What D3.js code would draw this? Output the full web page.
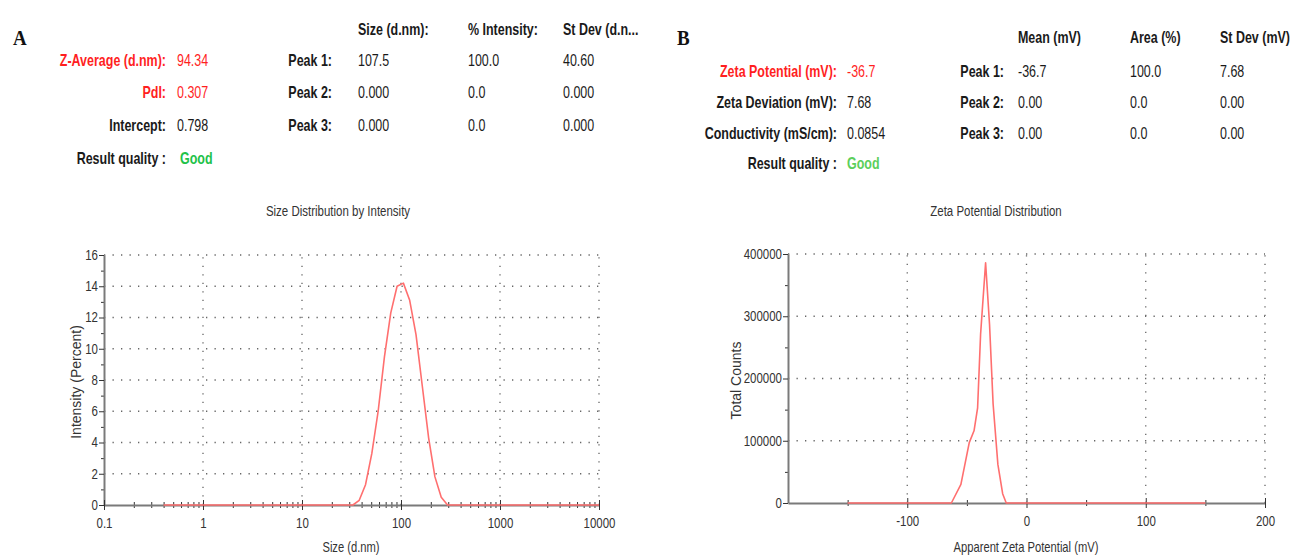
<!DOCTYPE html>
<html>
<head>
<meta charset="utf-8">
<script src="https://cdn.jsdelivr.net/npm/d3@7"></script>
<style>
  html, body { margin: 0; padding: 0; background: #ffffff; }
  svg { display: block; }
  .hdr { font-family: 'Liberation Sans', Arial, sans-serif; font-size: 16px; }
  .tick text { font-family: 'Liberation Sans', Arial, sans-serif; font-size: 14px; fill: #333; }
  .ttl { font-family: 'Liberation Sans', Arial, sans-serif; font-size: 14px; fill: #333; }
</style>
</head>
<body>
<svg id="chart" width="1294" height="556"></svg>
<script>
// ---------------- DATA ----------------
// Panel A: size distribution by intensity
const sizeNm       = [0.4, 32.67, 37.84, 43.82, 50.75, 58.77, 68.06, 78.82, 91.28, 105.7, 122.4, 141.8, 164.2, 190.1, 220.2, 255.0, 295.3, 10000];
const intensityPct = [0,   0,     0.3,   1.3,   3.3,   6.0,   9.5,   12.3,  14.0,  14.2,  13.1,  10.9,  7.6,   4.3,   1.8,   0.5,   0,     0];
const sizeTicks      = [0.1, 1, 10, 100, 1000, 10000];
const sizeTickLabels = ["0.1", "1", "10", "100", "1000", "10000"];
const intensityTicks = [0, 2, 4, 6, 8, 10, 12, 14, 16];

// Panel B: zeta potential distribution
const zetaMv      = [-150, -63, -55,   -48,   -44,    -41,    -38.5,  -34.3,  -31,    -28,    -24,   -20,   -17, 150];
const totalCounts = [0,    0,   30000, 97000, 116000, 153000, 271000, 386000, 287000, 159000, 62000, 15000, 0,   0];
const zetaTicks   = [-100, 0, 100, 200];
const countTicks  = [0, 100000, 200000, 300000, 400000];

// Header tables
const sizeSummaryLabels = ["Z-Average (d.nm):", "PdI:", "Intercept:", "Result quality :"];
const sizeSummaryValues = ["94.34", "0.307", "0.798", "Good"];
const sizeColHeaders = ["Size (d.nm):", "% Intensity:", "St Dev (d.n..."];
const peakLabels = ["Peak 1:", "Peak 2:", "Peak 3:"];
const sizePeakRows = [["107.5", "100.0", "40.60"], ["0.000", "0.0", "0.000"], ["0.000", "0.0", "0.000"]];

const zetaSummaryLabels = ["Zeta Potential (mV):", "Zeta Deviation (mV):", "Conductivity (mS/cm):", "Result quality :"];
const zetaSummaryValues = ["-36.7", "7.68", "0.0854", "Good"];
const zetaColHeaders = ["Mean (mV)", "Area (%)", "St Dev (mV)"];
const zetaPeakRows = [["-36.7", "100.0", "7.68"], ["0.00", "0.0", "0.00"], ["0.00", "0.0", "0.00"]];

// ---------------- DRAW ----------------
const svg = d3.select("#chart");
const RED = "#ff1f1f", DARK = "#1a1a1a", LINE = "#ff6f6f";

// the reference is horizontally compressed: squeeze glyphs horizontally, keeping anchor position
function squeeze(sel, f) {
  sel.each(function () {
    const t = d3.select(this);
    const x = +t.attr("x") || 0;
    t.attr("x", x / f).attr("transform", `scale(${f},1)`);
  });
}
const HF = 0.78; // header squeeze

function header(cfg) {
  const g = svg.append("g").attr("class", "hdr");
  g.append("text").attr("x", cfg.letterX).attr("y", cfg.letterY)
    .attr("font-family", "'Liberation Serif', 'Times New Roman', serif")
    .attr("font-size", 20).attr("font-weight", "bold").attr("fill", "#111").text(cfg.letter)
    .call(squeeze, 0.95);
  cfg.labels.forEach((t, i) => {
    const y = cfg.rowY[i];
    const isRed = cfg.redRows.includes(i);
    g.append("text").attr("x", cfg.labelRight).attr("y", y).attr("text-anchor", "end")
      .attr("dominant-baseline", "central").attr("font-weight", "bold")
      .attr("fill", isRed ? RED : DARK).text(t).call(squeeze, HF);
    const isGood = i === cfg.labels.length - 1;
    g.append("text").attr("x", cfg.valueX + (isGood ? cfg.goodDx : 0)).attr("y", y)
      .attr("dominant-baseline", "central")
      .attr("font-weight", isGood ? "bold" : "normal")
      .attr("fill", isGood ? cfg.green : (isRed ? RED : DARK)).text(cfg.values[i]).call(squeeze, HF);
  });
  cfg.colHeaders.forEach((t, j) => {
    g.append("text").attr("x", cfg.colX[j]).attr("y", cfg.headY).attr("dominant-baseline", "central")
      .attr("font-weight", "bold").attr("fill", DARK).text(t).call(squeeze, HF);
  });
  peakLabels.forEach((t, i) => {
    const y = cfg.rowY[i];
    g.append("text").attr("x", cfg.peakRight).attr("y", y).attr("text-anchor", "end")
      .attr("dominant-baseline", "central").attr("font-weight", "bold").attr("fill", DARK).text(t)
      .call(squeeze, HF);
    cfg.rows[i].forEach((v, j) => {
      g.append("text").attr("x", cfg.colX[j]).attr("y", y).attr("dominant-baseline", "central")
        .attr("fill", DARK).text(v).call(squeeze, HF);
    });
  });
}

header({
  letter: "A", letterX: 13, letterY: 45,
  labels: sizeSummaryLabels, values: sizeSummaryValues, redRows: [0, 1],
  rowY: [60, 92, 125, 158], labelRight: 166, valueX: 177, goodDx: 3, green: "#1fc24a",
  colHeaders: sizeColHeaders, colX: [358, 468, 563], headY: 29,
  peakRight: 332, rows: sizePeakRows
});
header({
  letter: "B", letterX: 677, letterY: 45,
  labels: zetaSummaryLabels, values: zetaSummaryValues, redRows: [0],
  rowY: [71, 102, 133, 163], labelRight: 837, valueX: 847, goodDx: 0, green: "#5ccf5c",
  colHeaders: zetaColHeaders, colX: [1018, 1130, 1220], headY: 37,
  peakRight: 1004, rows: zetaPeakRows
});

function panel(cfg) {
  const g = svg.append("g");
  const x = cfg.x, y = cfg.y;
  const [x0, x1] = x.range(), [y0, y1] = y.range(); // y0 bottom, y1 top

  // title
  g.append("text").attr("class", "ttl").attr("x", cfg.titleX).attr("y", 211)
    .attr("font-size", 13)
    .attr("text-anchor", "middle").attr("dominant-baseline", "central").text(cfg.title)
    .call(squeeze, 0.82);

  // dotted grid
  const grid = g.append("g").attr("stroke", "#666").attr("stroke-width", 1.3)
    .attr("stroke-dasharray", "1.3,7.2").attr("fill", "none");
  cfg.gridX.forEach(v => grid.append("line").attr("x1", x(v)).attr("x2", x(v)).attr("y1", y0).attr("y2", y1));
  cfg.gridY.forEach(v => grid.append("line").attr("x1", x0).attr("x2", x1).attr("y1", y(v)).attr("y2", y(v)));

  // minor ticks
  const minorY = d3.axisLeft(y).tickValues(cfg.minorY).tickFormat("").tickSize(3).tickSizeOuter(0);
  g.append("g").attr("transform", `translate(${x0},0)`).call(minorY)
    .call(s => s.select(".domain").remove())
    .call(s => s.selectAll("line").attr("stroke", "#333"));
  const minorX = d3.axisBottom(x).tickValues(cfg.minorX).tickFormat("").tickSize(3).tickSizeOuter(0);
  g.append("g").attr("transform", `translate(0,${y0})`).call(minorX)
    .call(s => s.select(".domain").remove())
    .call(s => s.selectAll("line").attr("y1", -3).attr("stroke", "#333"));

  // major axes
  const ay = d3.axisLeft(y).tickValues(cfg.yTicks).tickFormat(cfg.yFmt).tickSize(5).tickSizeOuter(0).tickPadding(1);
  g.append("g").attr("transform", `translate(${x0},0)`).call(ay)
    .call(s => s.select(".domain").attr("stroke", "#7a7a7a").attr("stroke-width", 2))
    .call(s => s.selectAll(".tick line").attr("stroke", "#333"))
    .call(s => s.selectAll(".tick text").call(squeeze, 0.82));
  const ax = d3.axisBottom(x).tickValues(cfg.xTicks).tickFormat(cfg.xFmt).tickSize(5).tickSizeOuter(0).tickPadding(8);
  g.append("g").attr("transform", `translate(0,${y0})`).call(ax)
    .call(s => s.select(".domain").attr("stroke", "#7a7a7a").attr("stroke-width", 2))
    .call(s => s.selectAll(".tick line").attr("y1", -5).attr("stroke", "#333"))
    .call(s => s.selectAll(".tick text").call(squeeze, 0.82));

  // axis titles
  g.append("text").attr("class", "ttl").attr("x", cfg.xTitleX).attr("y", 548)
    .attr("text-anchor", "middle").attr("dominant-baseline", "central").text(cfg.xTitle)
    .call(squeeze, 0.8);
  g.append("text").attr("class", "ttl").attr("font-size", 14.5)
    .attr("transform", `translate(${cfg.yTitleX},${(y0 + y1) / 2 + 2}) rotate(-90)`)
    .attr("text-anchor", "middle").attr("dominant-baseline", "central").text(cfg.yTitle);

  // data line
  const line = d3.line().x((d, i) => x(cfg.xs[i])).y((d, i) => y(cfg.ys[i]));
  g.append("path").datum(cfg.xs).attr("d", line).attr("fill", "none")
    .attr("stroke", LINE).attr("stroke-width", 1.6).attr("stroke-linejoin", "round");
}

// Panel A
const xA = d3.scaleLog().domain([0.1, 10000]).range([104, 599]);
const yA = d3.scaleLinear().domain([0, 16]).range([505, 255]);
const minorXA = [];
[0.1, 1, 10, 100, 1000].forEach(d => { for (let k = 2; k <= 9; k++) minorXA.push(d * k); });
panel({
  x: xA, y: yA, title: "Size Distribution by Intensity", titleX: 338,
  gridX: [1, 10, 100, 1000, 10000], gridY: [2, 4, 6, 8, 10, 12, 14, 16],
  minorX: minorXA, minorY: d3.range(1, 16, 2),
  xTicks: sizeTicks, xFmt: (d, i) => sizeTickLabels[i],
  yTicks: intensityTicks, yFmt: d => String(d),
  xTitle: "Size (d.nm)", xTitleX: 351, yTitle: "Intensity (Percent)", yTitleX: 76,
  xs: sizeNm, ys: intensityPct
});

// Panel B
const xB = d3.scaleLinear().domain([-200, 200]).range([788, 1265]);
const yB = d3.scaleLinear().domain([0, 400000]).range([503, 254]);
panel({
  x: xB, y: yB, title: "Zeta Potential Distribution", titleX: 996,
  gridX: [-100, 0, 100, 200], gridY: [100000, 200000, 300000, 400000],
  minorX: [-150, -50, 50, 150], minorY: [50000, 150000, 250000, 350000],
  xTicks: zetaTicks, xFmt: d => String(d),
  yTicks: countTicks, yFmt: d => String(d),
  xTitle: "Apparent Zeta Potential (mV)", xTitleX: 1026, yTitle: "Total Counts", yTitleX: 736,
  xs: zetaMv, ys: totalCounts
});
</script>
</body>
</html>
